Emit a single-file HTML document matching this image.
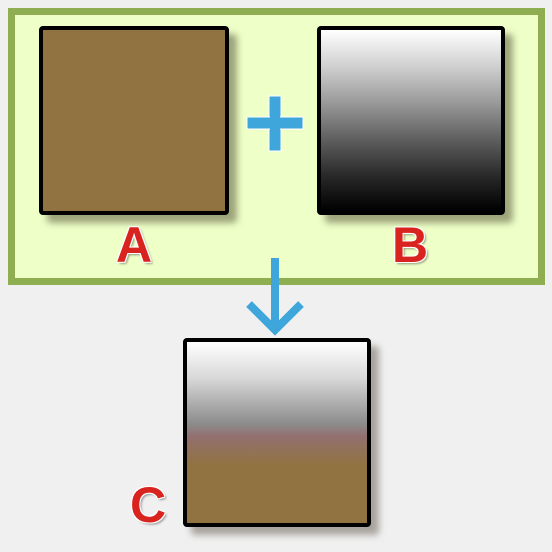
<!DOCTYPE html>
<html><head><meta charset="utf-8"><style>
html,body{margin:0;padding:0;background:#f0f0f0;}
body{width:552px;height:552px;position:relative;overflow:hidden;font-family:"Liberation Sans",sans-serif;}
.abs{position:absolute;}
.panel{left:8px;top:8px;width:523px;height:263px;border:7px solid #8fae52;background:#eeffc8;}
.sq{border:4px solid #000;border-radius:4px;box-sizing:border-box;box-shadow:8px 8px 7px rgba(90,90,60,0.55);}
.lbl{font-weight:bold;font-size:50px;color:#d9231f;text-shadow:1px 1px 0 #fff,-1px -1px 0 #fff,1px -1px 0 #fff,-1px 1px 0 #fff,2px 2px 2px rgba(0,0,0,0.4);width:60px;text-align:center;line-height:50px;}
</style></head><body>
<div class="abs panel"></div>
<div class="abs sq" style="left:39px;top:26px;width:190px;height:189px;background:#917341;"></div>
<div class="abs sq" style="left:317px;top:26px;width:188px;height:189px;background:linear-gradient(#ffffff 0%,#d0d0d0 20%,#9a9a9a 40%,#606060 60%,#2a2a2a 80%,#000 100%);"></div>
<svg class="abs" style="left:0;top:0" width="552" height="552">
<g>
<rect x="269" y="96" width="12" height="55" fill="#3fa6dc" stroke="#fff" stroke-width="1"/>
<rect x="247" y="117" width="56" height="12" fill="#3fa6dc" stroke="#fff" stroke-width="1"/>
<rect x="270" y="97" width="10" height="53" fill="#3fa6dc"/>
</g>
<g stroke="#3fa6dc" stroke-width="8" fill="none">
<line x1="275" y1="258" x2="275" y2="328"/>
<polyline points="249,304 275,330 301,304" stroke-linejoin="miter"/>
</g>
</svg>
<div class="abs sq" style="left:183px;top:338px;width:188px;height:189px;background:linear-gradient(#ffffff 0%,#d8d8d8 20%,#8c8c8c 45%,#927070 52%,#917341 68%,#917341 100%);box-shadow:8px 8px 7px rgba(110,100,90,0.55);"></div>
<div class="abs lbl" style="left:104px;top:220px;">A</div>
<div class="abs lbl" style="left:380px;top:220px;">B</div>
<div class="abs lbl" style="left:118px;top:480px;">C</div>
</body></html>
